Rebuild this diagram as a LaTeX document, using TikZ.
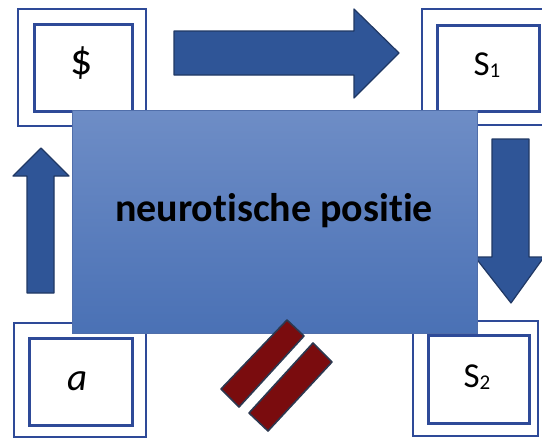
\documentclass[tikz,border=0pt]{standalone}
\usepackage{fontspec}
\setmainfont[Ligatures=NoCommon]{Carlito}
\begin{document}
\begin{tikzpicture}[x=1pt,y=-1pt,
  boxline/.style={draw=boxblue,line width=2.6pt},
  labelbox/.style={boxline,fill=white,inner sep=0pt,anchor=north west},
  blockarrow/.style={fill=arrowblue,draw=arrowedge,line width=1.2pt,line join=round},
  redbar/.style={fill=barred,draw=baredge,line width=1.6pt,line join=round},
  lbl/.style={font=\fontsize{35}{35}\selectfont,text=black}]
\definecolor{boxblue}{RGB}{46,74,152}
\definecolor{arrowblue}{RGB}{47,85,151}
\definecolor{arrowedge}{RGB}{32,56,100}
\definecolor{rtop}{RGB}{110,141,198}
\definecolor{rbot}{RGB}{74,113,181}
\definecolor{redge}{RGB}{80,110,170}
\definecolor{barred}{RGB}{122,12,14}
\definecolor{baredge}{RGB}{44,56,80}
\useasboundingbox (0,0) rectangle (542,439);
\fill[white] (0,0) rectangle (542,439);
% outer frames
\draw[boxline] (18,9) rectangle (146,126);
\draw[boxline] (422,9) rectangle (560,125);
\draw[boxline] (14,323) rectangle (146,437);
\draw[boxline] (413,321) rectangle (538,436);
% inner boxes
\node[labelbox,minimum width=98pt,minimum height=87pt] (dollar) at (33,23) {};
\node[labelbox,minimum width=102pt,minimum height=86pt] (s1) at (436,24) {};
\node[labelbox,minimum width=103pt,minimum height=87pt] (a) at (28,337) {};
\node[labelbox,minimum width=101pt,minimum height=88pt] (s2) at (427,334) {};
\node[lbl,font=\fontsize{44}{44}\selectfont] (tdollar) at (82,63) {\$};
\node[lbl] (ts1) at (487,65) {S\raisebox{-2.5pt}{\fontsize{21}{21}\selectfont 1}};
\node[lbl,font=\fontsize{39}{39}\selectfont\itshape] (ta) at (78,381) {a};
\node[lbl] (ts2) at (477,377) {S\raisebox{-2.5pt}{\fontsize{21}{21}\selectfont 2}};
% block arrows
\draw[blockarrow] (174,31) -- (354,31) -- (354,9) -- (399,53) -- (354,98) -- (354,75) -- (174,75) -- cycle;
\draw[blockarrow] (492,139) -- (529,139) -- (529,257) -- (544,257) -- (511,303) -- (475,257) -- (492,257) -- cycle;
\draw[blockarrow] (27,293) -- (27,176) -- (13,176) -- (41,148) -- (69,176) -- (54,176) -- (54,293) -- cycle;
% main rectangle
\node[draw=redge,line width=1pt,top color=rtop,bottom color=rbot,minimum width=405pt,minimum height=223pt,anchor=north west,inner sep=0pt] (main) at (72,110) {};
\node[font=\fontsize{40}{40}\selectfont\bfseries,text=black] (title) at (274,211) {neurotische positie};
% red bars
\draw[redbar] (287,320) -- (304,336) -- (239,407) -- (221,389) -- cycle;
\draw[redbar] (313,343) -- (332,362) -- (268,431) -- (249,413) -- cycle;
\end{tikzpicture}
\end{document}
